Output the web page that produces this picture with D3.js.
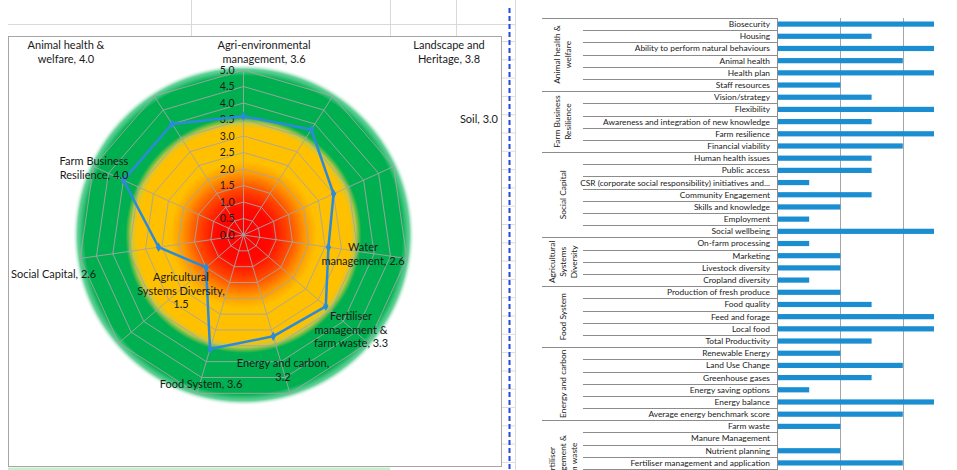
<!DOCTYPE html>
<html>
<head>
<meta charset="utf-8">
<script src="https://cdn.jsdelivr.net/npm/d3@7"></script>
<style>
  html, body { margin: 0; padding: 0; background: #ffffff; }
  svg { display: block; }
  text { font-family: Lato, "Open Sans", sans-serif; fill: #1a1a1a; }
</style>
</head>
<body>
<svg id="chart" width="957" height="470"></svg>
<script>
// ---------------- DATA ----------------
const radarCategories = [
  "Agri-environmental management", "Landscape and Heritage", "Soil", "Water management",
  "Fertiliser management & farm waste", "Energy and carbon", "Food System",
  "Agricultural Systems Diversity", "Social Capital", "Farm Business Resilience",
  "Animal health & welfare"
];
const radarValues = [3.6, 3.8, 3.0, 2.6, 3.3, 3.2, 3.6, 1.5, 2.6, 4.0, 4.0];
const radarTicks = [0, 0.5, 1, 1.5, 2, 2.5, 3, 3.5, 4, 4.5, 5];
// data label text split into lines as shown on the chart
const radarLabelLines = [
  ["Agri-environmental", "management, 3.6"],
  ["Landscape and", "Heritage, 3.8"],
  ["Soil, 3.0"],
  ["Water", "management, 2.6"],
  ["Fertiliser", "management &", "farm waste, 3.3"],
  ["Energy and carbon,", "3.2"],
  ["Food System, 3.6"],
  ["Agricultural", "Systems Diversity,", "1.5"],
  ["Social Capital, 2.6"],
  ["Farm Business", "Resilience, 4.0"],
  ["Animal health &", "welfare, 4.0"]
];

const barGroupNames = [
  ["Animal health &", "welfare"],
  ["Farm Business", "Resilience"],
  ["Social Capital"],
  ["Agricultural", "Systems", "Diversity"],
  ["Food System"],
  ["Energy and carbon"],
  ["Fertiliser", "management &", "farm waste"]
];
const barGroupSizes = [6, 5, 7, 4, 5, 6, 4];
const barLabels = [
  "Biosecurity", "Housing", "Ability to perform natural behaviours", "Animal health", "Health plan", "Staff resources",
  "Vision/strategy", "Flexibility", "Awareness and integration of new knowledge", "Farm resilience", "Financial viability",
  "Human health issues", "Public access", "CSR (corporate social responsibility)  initiatives and...", "Community Engagement", "Skills and knowledge", "Employment", "Social wellbeing",
  "On-farm processing", "Marketing", "Livestock diversity", "Cropland diversity",
  "Production of fresh produce", "Food quality", "Feed and forage", "Local food", "Total Productivity",
  "Renewable Energy", "Land Use Change", "Greenhouse gases", "Energy saving options", "Energy balance", "Average energy benchmark score",
  "Farm waste", "Manure Management", "Nutrient planning", "Fertiliser management and application"
];
const barValues = [
  5, 3, 5, 4, 5, 2,
  3, 5, 3, 5, 4,
  3, 3, 1, 3, 2, 1, 5,
  1, 2, 2, 1,
  2, 3, 5, 5, 3,
  2, 4, 3, 1, 5, 4,
  2, 0, 2, 4
];
const barTicks = [0, 2, 4, 6];

// ---------------- LAYOUT ----------------
const svg = d3.select("#chart");
const W = 957, H = 470;

// spreadsheet background bits
const sheet = svg.append("g");
sheet.append("rect").attr("x", 8).attr("y", 467.5).attr("width", 382).attr("height", 3).attr("fill", "#c6efce");
sheet.append("line").attr("x1", 8).attr("x2", 516).attr("y1", 24.5).attr("y2", 24.5).attr("stroke", "#d9d9d9");
[191.5, 390.5, 456.5].forEach(xv => sheet.append("line").attr("x1", xv).attr("x2", xv).attr("y1", 0).attr("y2", 36).attr("stroke", "#d9d9d9"));
sheet.append("line").attr("x1", 515.5).attr("x2", 515.5).attr("y1", 0).attr("y2", H).attr("stroke", "#d9d9d9");
d3.range(41.5, H, 18.3).forEach(yv => sheet.append("line").attr("x1", 502).attr("x2", 516).attr("y1", yv).attr("y2", yv).attr("stroke", "#dcdcdc"));

// chart frame
svg.append("rect").attr("x", 8.5).attr("y", 36.5).attr("width", 493).attr("height", 430)
  .attr("fill", "#ffffff").attr("stroke", "#a6a6a6").attr("stroke-width", 1);

// page break dashed line
svg.append("line").attr("x1", 509.5).attr("x2", 509.5).attr("y1", 8).attr("y2", H)
  .attr("stroke", "#2346e0").attr("stroke-width", 2).attr("stroke-dasharray", "5,3");

// ---------------- RADAR ----------------
const cx = 243.5, cy = 235;
const r = d3.scaleLinear().domain([0, 5]).range([0, 165]);
const n = radarCategories.length;
const ang = d3.scaleLinear().domain([0, n]).range([0, 2 * Math.PI]);
const px = (i, v) => cx + r(v) * Math.sin(ang(i));
const py = (i, v) => cy - r(v) * Math.cos(ang(i));

const defs = svg.append("defs");
const grad = defs.append("radialGradient").attr("id", "bg").attr("cx", "50%").attr("cy", "50%").attr("r", "50%");
[
  [0.00, "#ff0000", 1], [0.16, "#ff0800", 1], [0.27, "#ff4a00", 1], [0.36, "#ff9800", 1],
  [0.43, "#ffc000", 1], [0.625, "#ffc000", 1], [0.655, "#c8c840", 1], [0.69, "#00b050", 1],
  [0.93, "#00b050", 1], [0.97, "#40c680", 0.8], [1.0, "#ffffff", 0]
].forEach(([o, c, a]) => grad.append("stop").attr("offset", o).attr("stop-color", c).attr("stop-opacity", a));
svg.append("circle").attr("cx", cx).attr("cy", cy).attr("r", 171).attr("fill", "url(#bg)");

const grid = svg.append("g").attr("fill", "none").attr("stroke", "#a5a5a5").attr("stroke-width", 0.9);
radarTicks.slice(1).forEach(t => {
  grid.append("polygon").attr("points", d3.range(n).map(i => [px(i, t), py(i, t)].join(",")).join(" "));
});
d3.range(n).forEach(i => grid.append("line").attr("x1", cx).attr("y1", cy).attr("x2", px(i, 5)).attr("y2", py(i, 5)));

// tick labels
svg.append("g").selectAll("text").data(radarTicks).join("text")
  .attr("x", cx - 9).attr("y", d => cy - r(d)).attr("dy", "0.35em")
  .attr("text-anchor", "end").attr("font-size", 10.5).text(d => d.toFixed(1));

// series line
const line = d3.line().curve(d3.curveLinearClosed);
const pts = radarValues.map((v, i) => [px(i, v), py(i, v)]);
svg.append("path").attr("d", line(pts)).attr("fill", "none").attr("stroke", "#2b8bd9").attr("stroke-width", 2.5).attr("stroke-linejoin", "round");
svg.append("g").selectAll("path").data(pts).join("path")
  .attr("transform", d => `translate(${d[0]},${d[1]})`)
  .attr("d", d3.symbol(d3.symbolDiamond, 26)).attr("fill", "#2b8bd9");

// data labels (manually placed like the original)
const radarLabelPos = [
  [264, 45, "middle"], [449, 45, "middle"], [498, 119, "end"], [363, 247, "middle"],
  [351, 316, "middle"], [283, 363, "middle"], [201, 384, "middle"], [181, 277, "middle"],
  [11, 274, "start"], [94, 161, "middle"], [66, 45, "middle"]
];
const lblG = svg.append("g");
radarLabelLines.forEach((lines, i) => {
  const [lx, ly, anchor] = radarLabelPos[i];
  const t = lblG.append("text").attr("x", lx).attr("y", ly).attr("text-anchor", anchor).attr("font-size", 11);
  lines.forEach((s, k) => t.append("tspan").attr("x", lx).attr("y", ly + k * 13.8).attr("dy", "0.35em").text(s));
});

// ---------------- BAR CHART ----------------
const rowH = 12.19, topY = 18;
const yB = d3.scaleBand().domain(d3.range(barLabels.length)).range([topY, topY + rowH * barLabels.length]).padding(0);
const xB = d3.scaleLinear().domain([0, 6]).range([778, 778 + 6 * 31.2]);
const axisX = 777.5, groupX = 542, rowX = 583;

const bg = svg.append("g");
// gridlines
bg.selectAll("line.grid").data(barTicks.slice(1)).join("line")
  .attr("x1", d => Math.round(xB(d)) + 0.5).attr("x2", d => Math.round(xB(d)) + 0.5)
  .attr("y1", topY).attr("y2", H).attr("stroke", "#a6a6a6").attr("stroke-width", 1);

// row separators
let idx = 0;
const groupStarts = [];
barGroupSizes.forEach(s => { groupStarts.push(idx); idx += s; });
d3.range(barLabels.length + 1).forEach(i => {
  const isGroup = groupStarts.includes(i);
  const yy = Math.round(topY + i * rowH) + 0.5;
  bg.append("line").attr("x1", isGroup ? groupX : rowX).attr("x2", axisX).attr("y1", yy).attr("y2", yy)
    .attr("stroke", "#8c8c8c").attr("stroke-width", 1);
});
bg.append("line").attr("x1", axisX).attr("x2", axisX).attr("y1", topY).attr("y2", H).attr("stroke", "#8c8c8c");

// bars
bg.selectAll("rect.bar").data(barValues).join("rect")
  .attr("x", xB(0)).attr("y", (d, i) => yB(i) + yB.bandwidth() / 2 - 2.6)
  .attr("width", d => xB(d) - xB(0)).attr("height", 5.2).attr("fill", "#1b8dd1");

// row labels
bg.selectAll("text.row").data(barLabels).join("text")
  .attr("x", 770).attr("y", (d, i) => yB(i) + yB.bandwidth() / 2).attr("dy", "0.35em")
  .attr("text-anchor", "end").attr("font-size", 8.4).text(d => d);

// group labels (last group continues below the visible area)
const lastGroupRows = 7;
barGroupNames.forEach((lines, g) => {
  const size = g === barGroupNames.length - 1 ? lastGroupRows : barGroupSizes[g];
  const yc = topY + (groupStarts[g] + size / 2) * rowH;
  const xc = 563;
  const lh = 11;
  lines.forEach((s, k) => {
    const xx = xc + (k - (lines.length - 1) / 2) * lh;
    bg.append("text").attr("transform", `translate(${xx},${yc}) rotate(-90)`)
      .attr("text-anchor", "middle").attr("dy", "0.35em").attr("font-size", 8.4).text(s);
  });
});
</script>
</body>
</html>
